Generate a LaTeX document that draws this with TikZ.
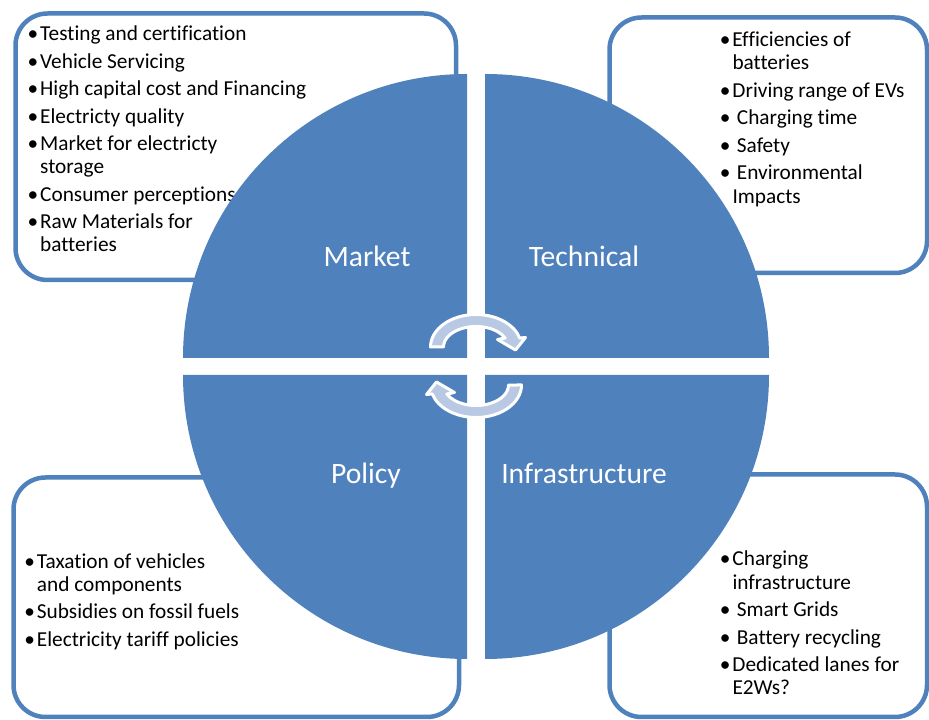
\documentclass[tikz,border=0pt]{standalone}
\usepackage{fontspec}
\setmainfont{Carlito}[Ligatures={NoCommon}]
\definecolor{ablue}{RGB}{79,129,189}
\definecolor{alight}{RGB}{185,201,227}
\newcommand{\mybul}[1][2pt]{\makebox[0pt][r]{•\hspace{#1}}}
\begin{document}
\begin{tikzpicture}[x=1pt,y=1pt,
  box/.style={draw=ablue, line width=4.5pt, fill=white, rounded corners=32pt, inner sep=0pt},
  quarter/.style={fill=ablue},
  item/.style={anchor=base west, inner sep=0pt, font=\fontsize{21.3}{25}\selectfont, text=black},
  lbl/.style={anchor=base, inner sep=0pt, font=\fontsize{29.6}{35}\selectfont, text=white},
  cyc/.style={fill=alight, draw=white, line width=3pt, line join=round}]
\useasboundingbox (0,0) rectangle (929,720);
% boxes
\node[box, minimum width=440.5pt, minimum height=266.5pt] (mbox) at (235.75,573.25) {};
\node[box, minimum width=317.5pt, minimum height=255.5pt] (tbox) at (768.25,574.75) {};
\node[box, minimum width=445.5pt, minimum height=239.5pt] (pbox) at (236.25,122.75) {};
\node[box, minimum width=317.5pt, minimum height=242.5pt] (ibox) at (768.25,124.25) {};
% market text
\node[item] (m1) at (40,679.3) {\mybul Testing and certification};
\node[item] (m2) at (40,651.8) {\mybul Vehicle Servicing};
\node[item] (m3) at (40,624.3) {\mybul High capital cost and Financing};
\node[item] (m4) at (40,596.8) {\mybul Electricty quality};
\node[item] (m5) at (40,569.3) {\mybul Market for electricty};
\node[item] (m6) at (40,546.3) {storage};
\node[item] (m7) at (40,518.8) {\mybul Consumer perceptions};
\node[item] (m8) at (40,491.3) {\mybul Raw Materials for};
\node[item] (m9) at (40,468.3) {batteries};
% technical text
\node[item] (t1) at (732.3,673.5) {\mybul Efficiencies of};
\node[item] (t2) at (732.3,650) {batteries};
\node[item] (t3) at (732.3,622.5) {\mybul Driving range of EVs};
\node[item] (t4) at (736.7,595) {\mybul[6.4pt]Charging time};
\node[item] (t5) at (736.7,567.5) {\mybul[6.4pt]Safety};
\node[item] (t6) at (736.7,540) {\mybul[6.4pt]Environmental};
\node[item] (t7) at (732.3,516.5) {Impacts};
% policy text
\node[item] (p1) at (36.7,151.7) {\mybul Taxation of vehicles};
\node[item] (p2) at (36.7,128.4) {and components};
\node[item] (p3) at (36.7,101) {\mybul Subsidies on fossil fuels};
\node[item] (p4) at (36.7,73.5) {\mybul Electricity tariff policies};
% infrastructure text
\node[item] (i1) at (732.3,154) {\mybul Charging};
\node[item] (i2) at (732.3,130.7) {infrastructure};
\node[item] (i3) at (736.7,103.2) {\mybul[6.4pt]Smart Grids};
\node[item] (i4) at (736.7,75.7) {\mybul[6.4pt]Battery recycling};
\node[item] (i5) at (732.3,48.2) {\mybul Dedicated lanes for};
\node[item] (i6) at (732.3,25) {E2Ws?};
% quarter discs
\fill[quarter] (467,362) -- ++(-284,0) arc[start angle=180, end angle=90, radius=284] -- cycle;
\fill[quarter] (485,362) -- ++(0,284) arc[start angle=90, end angle=0, radius=284] -- cycle;
\fill[quarter] (467,345) -- ++(0,-284) arc[start angle=270, end angle=180, radius=284] -- cycle;
\fill[quarter] (485,345) -- ++(284,0) arc[start angle=0, end angle=-90, radius=284] -- cycle;
% labels
\node[lbl] (lm) at (367,453.3) {Market};
\node[lbl] (lt) at (584,453.3) {Technical};
\node[lbl] (lp) at (366,236.5) {Policy};
\node[lbl] (li) at (584,236.5) {Infrastructure};
% circular arrows
\draw[cyc] (430.5,373) arc[start angle=180, end angle=16, x radius=45.5, y radius=32.5]
  -- (525.5,382.5) -- (515.5,370) -- (497.5,380.5) -- (505.2,382)
  arc[start angle=26, end angle=180, x radius=32.5, y radius=20.5] -- cycle;
\begin{scope}[rotate around={180:(476,354)}]
\draw[cyc] (430.5,373) arc[start angle=180, end angle=16, x radius=45.5, y radius=32.5]
  -- (525.5,382.5) -- (515.5,370) -- (497.5,380.5) -- (505.2,382)
  arc[start angle=26, end angle=180, x radius=32.5, y radius=20.5] -- cycle;
\end{scope}
\end{tikzpicture}
\end{document}
